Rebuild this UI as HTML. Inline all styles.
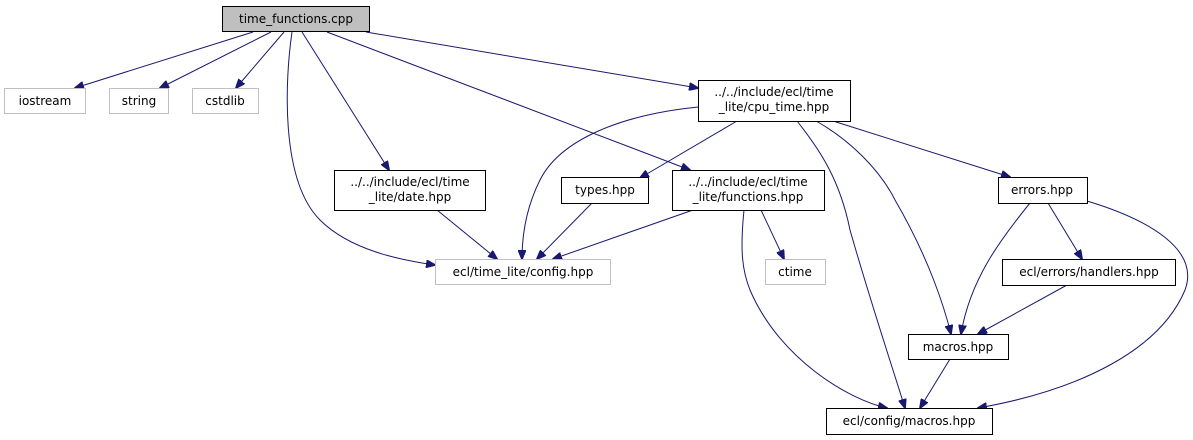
<!DOCTYPE html>
<html><head><meta charset="utf-8"><style>
html,body{margin:0;padding:0;background:#fff;}
svg{display:block;}
text{font-family:"DejaVu Sans","Liberation Sans",sans-serif;font-size:12px;fill:#000;}
</style></head><body>
<svg width="1193" height="440" viewBox="0 0 1193 440" xmlns="http://www.w3.org/2000/svg">
<defs>
<marker id="a" markerWidth="10" markerHeight="8" refX="9" refY="4" orient="auto" markerUnits="userSpaceOnUse">
<path d="M0,0 L10,4 L0,8 z" fill="#191970" stroke="#191970"/>
</marker>
</defs>
<g fill="none" stroke="#191970" stroke-width="1" marker-end="url(#a)">
<path d="M253,32 L75,88"/>
<path d="M271,32 L160,88"/>
<path d="M284,32 L236,88"/>
<path d="M292,32 C285,80 280,180 320,220 C350,250 400,260 435,265"/>
<path d="M302,32 L389,170"/>
<path d="M327,32 L690,170"/>
<path d="M366,32 L698,88"/>
<path d="M698,107 C620,115 560,140 540,180 C525,210 522,240 522,259"/>
<path d="M737,121 L640,178"/>
<path d="M797,121 C820,150 840,180 850,230 C870,300 890,360 905,408"/>
<path d="M816,121 C850,140 880,170 895,200 C930,260 945,310 951,334"/>
<path d="M833,121 L1010,177"/>
<path d="M437,210 L497,259"/>
<path d="M592,203 L537,259"/>
<path d="M693,210 L553,259"/>
<path d="M761,210 L784,259"/>
<path d="M744,210 C740,250 742,270 750,290 C780,360 850,400 887,408"/>
<path d="M1030,203 C1000,240 970,280 961,334"/>
<path d="M1048,203 L1082,259"/>
<path d="M1087,201 C1150,220 1200,250 1185,290 C1160,350 1080,390 978,408"/>
<path d="M1067,285 L978,334"/>
<path d="M950,359 L920,408"/>
</g>
<g stroke-width="1">
<rect x="222.5" y="6.5" width="147" height="25" fill="#bfbfbf" stroke="#000"/>
<rect x="4.5" y="88.5" width="81" height="25" fill="#fff" stroke="#bfbfbf"/>
<rect x="109.5" y="88.5" width="59" height="25" fill="#fff" stroke="#bfbfbf"/>
<rect x="192.5" y="88.5" width="66" height="25" fill="#fff" stroke="#bfbfbf"/>
<rect x="334.5" y="170.5" width="151" height="40" fill="#fff" stroke="#000"/>
<rect x="435.5" y="259.5" width="175" height="25" fill="#fff" stroke="#bfbfbf"/>
<rect x="561.5" y="177.5" width="87" height="26" fill="#fff" stroke="#000"/>
<rect x="698.5" y="80.5" width="152" height="41" fill="#fff" stroke="#000"/>
<rect x="672.5" y="170.5" width="152" height="40" fill="#fff" stroke="#000"/>
<rect x="765.5" y="259.5" width="60" height="25" fill="#fff" stroke="#bfbfbf"/>
<rect x="998.5" y="177.5" width="89" height="26" fill="#fff" stroke="#000"/>
<rect x="1002.5" y="259.5" width="173" height="26" fill="#fff" stroke="#000"/>
<rect x="908.5" y="334.5" width="100" height="25" fill="#fff" stroke="#000"/>
<rect x="826.5" y="408.5" width="166" height="26" fill="#fff" stroke="#000"/>
</g>
<g text-anchor="middle">
<text x="296" y="23">time_functions.cpp</text>
<text x="45" y="105">iostream</text>
<text x="139" y="105">string</text>
<text x="225" y="105">cstdlib</text>
<text x="410" y="186">../../include/ecl/time</text>
<text x="410" y="201">_lite/date.hpp</text>
<text x="523" y="276">ecl/time_lite/config.hpp</text>
<text x="605" y="194">types.hpp</text>
<text x="774" y="96">../../include/ecl/time</text>
<text x="774" y="111">_lite/cpu_time.hpp</text>
<text x="748" y="186">../../include/ecl/time</text>
<text x="748" y="201">_lite/functions.hpp</text>
<text x="795" y="276">ctime</text>
<text x="1042" y="194">errors.hpp</text>
<text x="1089" y="276">ecl/errors/handlers.hpp</text>
<text x="958" y="351">macros.hpp</text>
<text x="909" y="425">ecl/config/macros.hpp</text>
</g>
</svg>
</body></html>
